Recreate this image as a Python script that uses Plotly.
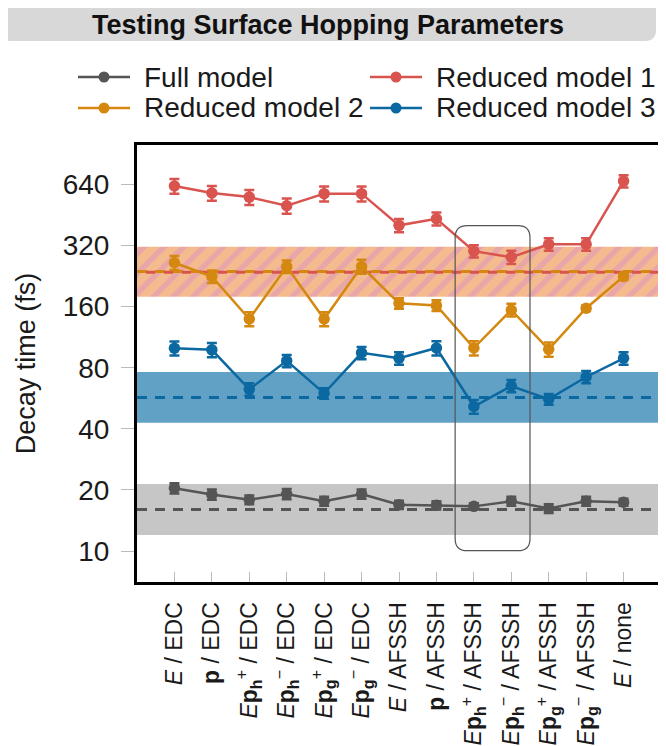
import plotly.graph_objects as go
import math

# ---------------- data ----------------
categories = [
    "<i>E</i> / EDC",
    "<b>p</b> / EDC",
    "<i>E</i><b>p</b><sub><b>h</b></sub><sup>+</sup> / EDC",
    "<i>E</i><b>p</b><sub><b>h</b></sub><sup>−</sup> / EDC",
    "<i>E</i><b>p</b><sub><b>g</b></sub><sup>+</sup> / EDC",
    "<i>E</i><b>p</b><sub><b>g</b></sub><sup>−</sup> / EDC",
    "<i>E</i> / AFSSH",
    "<b>p</b> / AFSSH",
    "<i>E</i><b>p</b><sub><b>h</b></sub><sup>+</sup> / AFSSH",
    "<i>E</i><b>p</b><sub><b>h</b></sub><sup>−</sup> / AFSSH",
    "<i>E</i><b>p</b><sub><b>g</b></sub><sup>+</sup> / AFSSH",
    "<i>E</i><b>p</b><sub><b>g</b></sub><sup>−</sup> / AFSSH",
    "<i>E</i> / none",
]

full_model = [20.4, 19.0, 17.9, 19.1, 17.6, 19.1, 16.9, 16.8, 16.6, 17.6, 16.2, 17.6, 17.4]
full_err = [1.2, 1.1, 0.9, 1.1, 0.9, 1.0, 0.8, 0.8, 0.6, 0.9, 0.8, 0.9, 0.7]

reduced1 = [628, 580, 554, 502, 576, 576, 402, 433, 300, 280, 324, 324, 664]
reduced1_err = [53, 49, 47, 43, 49, 49, 30, 32, 21, 21, 23, 23, 46]

reduced2 = [263, 225, 139, 252, 139, 252, 166, 162, 100, 154, 98.5, 157, 225]
reduced2_err = [21, 16, 11, 18, 11, 20, 10, 10, 8, 11, 8, 5, 9]

reduced3 = [99.8, 98, 62.6, 86.5, 59.8, 94.7, 89, 100, 51.5, 65, 56, 72, 89]
reduced3_err = [8, 8, 4.4, 6, 3.6, 6.6, 6.2, 8, 4, 4.5, 3.4, 5, 6.2]

# reference values (mean, low, high) shown as bands
ref_full = [16.0, 12.0, 21.4]
ref_red1 = [236, 179, 315]
ref_red2 = [238, 179, 315]
ref_red3 = [57.1, 42.9, 76.2]

ytick_vals = [10, 20, 40, 80, 160, 320, 640]
ytick_text = ["10", "20", "40", "80", "160", "320", "640"]

series_names = ["Full model", "Reduced model 1", "Reduced model 2", "Reduced model 3"]

# ---------------- style ----------------
C_GRAY = "#555555"
C_RED = "#D9534F"
C_ORANGE = "#D5880F"
C_BLUE = "#0B68A0"
FONT = "Liberation Sans, Arial, sans-serif"

# the page has an 8px body margin; figure is shrunk so it ends at 666x746
OFF = 8
W_FIG, H_FIG = 666 - OFF, 746 - OFF
L, R, T, B = 137 - OFF, 661 - OFF, 145 - OFF, 582 - OFF
PW, PH = R - L, B - T


def px(x):
    # x given in page pixels
    return (x - OFF - L) / PW


def py(y):
    return (B - (y - OFF)) / PH


xs = list(range(len(categories)))
xband = [-1, 13, 13, -1]

fig = go.Figure()

# bands
fig.add_trace(go.Scatter(x=xband, y=[ref_full[1], ref_full[1], ref_full[2], ref_full[2]],
                         fill="toself", fillcolor="#C6C6C6", mode="lines",
                         line=dict(width=0), showlegend=False, hoverinfo="skip"))
fig.add_trace(go.Scatter(x=xband, y=[ref_red3[1], ref_red3[1], ref_red3[2], ref_red3[2]],
                         fill="toself", fillcolor="rgb(98,161,198)", mode="lines",
                         line=dict(width=0), showlegend=False, hoverinfo="skip"))
fig.add_trace(go.Scatter(x=xband, y=[ref_red1[1], ref_red1[1], ref_red1[2], ref_red1[2]],
                         fill="toself", fillcolor="#E9A6A9", mode="lines",
                         fillpattern=dict(shape="/", bgcolor="#E9A6A9", fgcolor="#FFD174",
                                          size=14, solidity=0.6),
                         line=dict(width=0), showlegend=False, hoverinfo="skip"))

# dashed reference lines
for ref, col, dash in [(ref_full, C_GRAY, "10px,8px"), (ref_red3, C_BLUE, "10px,8px"),
                       (ref_red2, C_ORANGE, "10px,8px"), (ref_red1, C_RED, "0px,9px,9px,0px")]:
    fig.add_trace(go.Scatter(x=[-1, 13], y=[ref[0], ref[0]], mode="lines",
                             line=dict(color=col, width=3, dash=dash),
                             showlegend=False, hoverinfo="skip"))

series = [
    (series_names[0], full_model, full_err, C_GRAY),
    (series_names[1], reduced1, reduced1_err, C_RED),
    (series_names[2], reduced2, reduced2_err, C_ORANGE),
    (series_names[3], reduced3, reduced3_err, C_BLUE),
]

# data series
for name, vals, errs, col in series:
    fig.add_trace(go.Scatter(
        x=xs, y=vals, name=name, mode="lines+markers",
        line=dict(color=col, width=2.5),
        marker=dict(color=col, size=11.5, symbol="circle"),
        error_y=dict(type="data", array=errs, color=col, thickness=2.5, width=5),
        showlegend=False,
    ))

# ---------------- shapes ----------------
shapes = []
annotations = []
# title box (rounded)
x0, x1, y0, y1, r = 0, 656, 0, 41, 11
path = (f"M {px(x0+r)},{py(y0)} L {px(x1-r)},{py(y0)} Q {px(x1)},{py(y0)} {px(x1)},{py(y0+r)} "
        f"L {px(x1)},{py(y1-r)} Q {px(x1)},{py(y1)} {px(x1-r)},{py(y1)} "
        f"L {px(x0+r)},{py(y1)} Q {px(x0)},{py(y1)} {px(x0)},{py(y1-r)} "
        f"L {px(x0)},{py(y0+r)} Q {px(x0)},{py(y0)} {px(x0+r)},{py(y0)} Z")
shapes.append(dict(type="path", xref="paper", yref="paper", path=path,
                   fillcolor="#D8D8D8", line=dict(width=0), layer="below"))

# highlight box around the AFSSH h± columns (rounded)
bx0, bx1 = 7.5, 9.5
by0, by1 = py(550.7), py(225.7)
rx, ry = 12 / 37.5, 12 / PH
hpath = (f"M {bx0},{by0+ry} L {bx0},{by1-ry} Q {bx0},{by1} {bx0+rx},{by1} "
         f"L {bx1-rx},{by1} Q {bx1},{by1} {bx1},{by1-ry} "
         f"L {bx1},{by0+ry} Q {bx1},{by0} {bx1-rx},{by0} "
         f"L {bx0+rx},{by0} Q {bx0},{by0} {bx0},{by0+ry} Z")
shapes.append(dict(type="path", xref="x", yref="y domain", path=hpath,
                   line=dict(color="#555555", width=1.2), fillcolor="rgba(0,0,0,0)"))

# legend (two columns, drawn manually)
legend_pos = [(78, 77), (370, 77), (78, 108), (370, 108)]
for (name, _, _, col), (lx, ly) in zip(series, legend_pos):
    shapes.append(dict(type="line", xref="paper", yref="paper",
                       x0=px(lx), x1=px(lx + 52), y0=py(ly), y1=py(ly),
                       line=dict(color=col, width=2.5)))
    shapes.append(dict(type="circle", xref="paper", yref="paper",
                       x0=px(lx + 26 - 5.5), x1=px(lx + 26 + 5.5),
                       y0=py(ly + 5.5), y1=py(ly - 5.5),
                       fillcolor=col, line=dict(width=0)))
    annotations.append(dict(text=name, xref="paper", yref="paper",
                            x=px(lx + 64), y=py(ly), xanchor="left", yanchor="middle",
                            showarrow=False, font=dict(size=28, family=FONT, color="#1a1a1a")))

fig.update_layout(
    width=W_FIG, height=H_FIG,
    margin=dict(l=L, r=W_FIG - R, t=T, b=H_FIG - B, pad=0, autoexpand=False),
    paper_bgcolor="white", plot_bgcolor="white",
    font=dict(family=FONT, color="#1a1a1a", size=26),
    title=dict(text="<b>Testing Surface Hopping Parameters</b>",
               x=(328 - OFF) / W_FIG, xref="container", xanchor="center",
               y=1 - (25 - OFF) / H_FIG, yref="container", yanchor="middle",
               font=dict(size=27, family=FONT, color="#111")),
    shapes=shapes,
    annotations=annotations,
    showlegend=False,
    xaxis=dict(range=[-1, 13], tickmode="array", tickvals=xs, ticktext=categories,
               tickangle=-90, ticks="inside", ticklen=10, tickcolor="#bbbbbb",
               tickwidth=1.2, showgrid=False, zeroline=False, automargin=False,
               showline=True, linecolor="black", linewidth=3, mirror=True,
               ticklabelstandoff=8,
               tickfont=dict(size=23, family=FONT)),
    yaxis=dict(type="log", range=[math.log10(7.04), 3.0], tickmode="array",
               tickvals=ytick_vals, ticktext=ytick_text,
               ticks="outside", ticklen=13, tickcolor="#bbbbbb", tickwidth=1.2,
               showgrid=False, zeroline=False, automargin=False,
               showline=True, linecolor="black", linewidth=3, mirror=True,
               ticklabelstandoff=6,
               tickfont=dict(size=28, family=FONT),
               title=dict(text="Decay time (fs)", font=dict(size=27, family=FONT),
                          standoff=20)),
)

fig.write_html("out.html")
